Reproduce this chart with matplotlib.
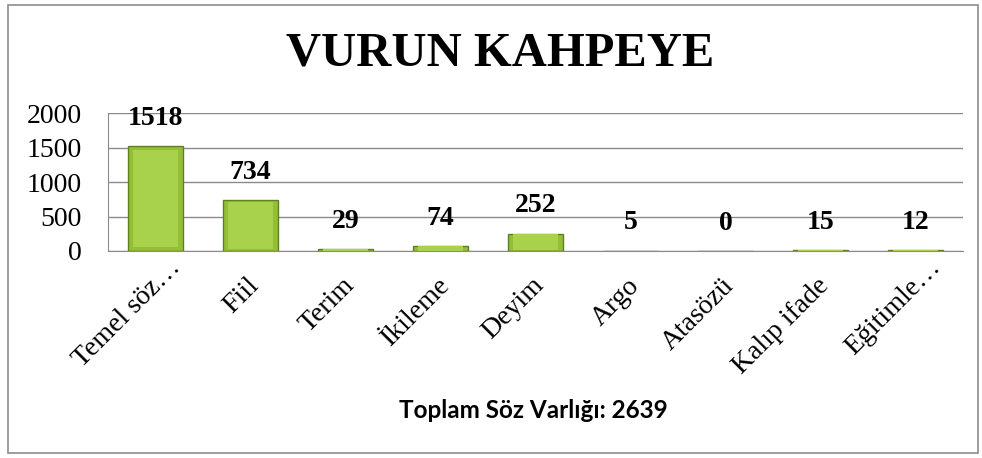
import matplotlib
matplotlib.use("Agg")
import matplotlib.pyplot as plt
from matplotlib.patches import Rectangle
from matplotlib.transforms import ScaledTranslation

categories = ["Temel söz…", "Fiil", "Terim", "İkileme", "Deyim", "Argo", "Atasözü", "Kalıp ifade", "Eğitimle…"]
values = [1518, 734, 29, 74, 252, 5, 0, 15, 12]
yticks = [0, 500, 1000, 1500, 2000]
title = "VURUN KAHPEYE"
xlabel = "Toplam Söz Varlığı: 2639"

W, H = 982, 458
fig = plt.figure(figsize=(W / 100, H / 100), dpi=100)
fig.patch.set_facecolor("white")
fig.patches.append(Rectangle((8 / W, 1 - 453 / H), 970 / W, 448 / H, transform=fig.transFigure,
                             fill=False, edgecolor="#8c8c8c", linewidth=1.2))

ax = fig.add_axes([108 / W, 1 - 251 / H, (963 - 108) / W, (251 - 113) / H])
x = list(range(len(categories)))
ax.bar(x, values, width=0.57, color="#94be36", edgecolor="#5f8020", linewidth=1.0, zorder=3)
# lighter inner face for bevel look
ax.bar(x, [v * 0.92 for v in values], width=0.47, bottom=[v * 0.04 for v in values],
       color="#a8d14c", linewidth=0, zorder=4)

ax.set_xlim(-0.5, len(categories) - 0.5)
ax.set_ylim(0, 2000)
ax.set_yticks(yticks)
ax.set_yticklabels([str(t) for t in yticks], fontfamily="Liberation Serif", fontsize=20)
ax.yaxis.grid(True, color="#8a8a8a", linewidth=1.0, zorder=0)
ax.tick_params(axis="y", length=0, pad=19)
ax.tick_params(axis="x", length=0, pad=0)
for s in ["top", "right"]:
    ax.spines[s].set_visible(False)
ax.spines["left"].set_color("#8a8a8a")
ax.spines["bottom"].set_color("#8a8a8a")

ax.set_xticks(x)
labels = ax.set_xticklabels(categories, rotation=45, ha="right", va="top", rotation_mode="anchor",
                            fontfamily="Liberation Serif", fontsize=20)
for lab in labels:
    if lab.get_text().endswith("…"):
        dx, dy = 13 / 100, -4 / 100
    else:
        dx, dy = -4 / 100, -22 / 100
    lab.set_transform(lab.get_transform() + ScaledTranslation(dx, dy, fig.dpi_scale_trans))

for xi, v in zip(x, values):
    ax.annotate(str(v), (xi, v), xytext=(0, 20), textcoords="offset points",
                ha="center", va="center", fontfamily="Liberation Serif",
                fontweight="bold", fontsize=20, zorder=5, annotation_clip=False)

fig.text(500 / W, 1 - 54 / H, title, ha="center", va="center", fontfamily="Liberation Serif",
         fontweight="bold", fontsize=35)
fig.text(533 / W, 1 - 410 / H, xlabel, ha="center", va="center", fontfamily="Lato",
         fontweight="bold", fontsize=17.5)

fig.savefig("out.png", dpi=100, facecolor="white")
